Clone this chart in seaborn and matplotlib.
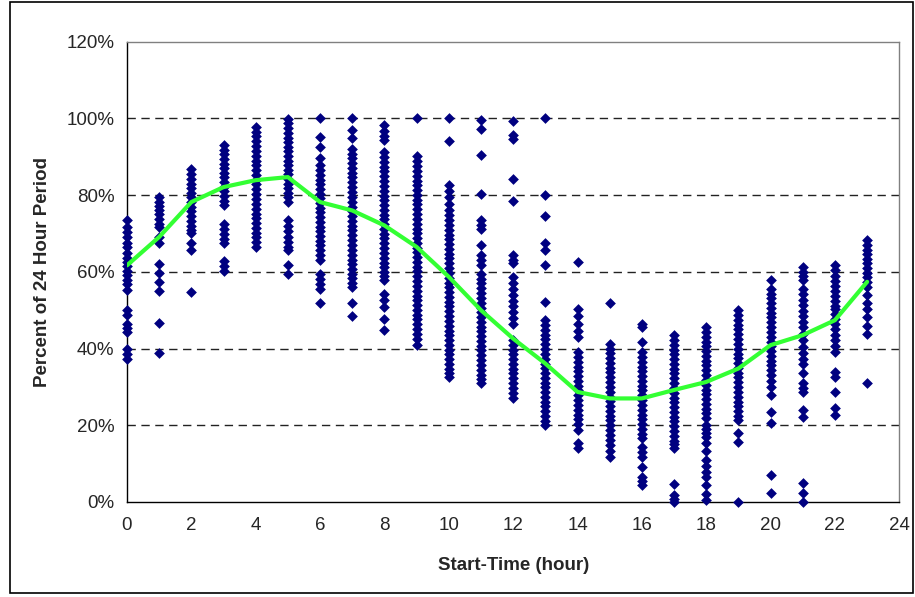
import matplotlib
matplotlib.use("Agg")
import matplotlib.pyplot as plt
import pandas as pd
import seaborn as sns
from matplotlib.patches import Rectangle

# percent of 24 hour period, per start hour
h0 = [73.4, 71.8, 70.5, 69, 67.5, 66.4, 65, 63.6, 62.5, 61.5, 60.3, 59.2, 58, 56.8, 55.2,
      50, 48.7, 46.5, 45.3, 44.4, 40, 38.6, 37.4]
h1 = [79.5, 78.3, 77.2, 76, 75, 73.8, 72.6, 71.7, 69, 67.5, 62, 59.8, 57.3, 55, 46.6, 38.8]
h2 = [86.9, 85.6, 84.3, 83, 81.8, 80.5, 79.4, 78.2, 77, 75.8, 74.5, 73.3, 72, 71, 70,
      67.5, 65.6, 54.8]
h3 = [93, 91.8, 90.6, 89.4, 88.2, 87, 85.8, 84.6, 83.4, 82.2, 81, 79.8, 78.6, 77.3,
      72.6, 71.2, 69.8, 68.5, 67.4, 62.8, 61.5, 60.2]
h4 = [97.7, 96.5, 95.3, 94, 92.8, 91.5, 90.2, 89, 87.8, 86.5, 85.2, 84, 82.8, 81.5, 80.2,
      79, 77.8, 76.5, 75.2, 74, 72.8, 71.5, 70.2, 69, 67.8, 66.5]
h5 = [99.9, 98.7, 97.5, 96.3, 95, 93.8, 92.6, 91.4, 90.2, 89, 87.8, 86.6, 85.4, 84.2, 83,
      81.8, 80.6, 79.4, 78.2, 73.4, 72, 70.6, 69.2, 67.9, 66.6, 65.6, 61.7, 59.5]
h6 = [100, 95.1, 92.5, 89.7, 87.8, 86.5, 85.3, 84, 82.9, 81.6, 80.4, 79.2, 78, 76.7, 75.5,
      74.3, 73, 71.8, 70.6, 69.3, 68, 66.9, 65.6, 64.3, 63, 59.5, 58.2, 56.9, 55.6, 51.9]
h7 = [100, 97.1, 94.9, 92.1, 90.8, 89.6, 88.3, 87.1, 85.8, 84.6, 83.3, 82, 80.8, 79.5, 78.3,
      77, 75.8, 74.5, 73.3, 72, 70.8, 69.5, 68.2, 67, 65.7, 64.5, 63.2, 62, 60.7, 59.5,
      58.3, 57.2, 56.1, 51.9, 48.4]
h8 = [98.2, 96.8, 95.5, 94.3, 91.2, 89.9, 88.7, 87.4, 86.2, 84.9, 83.7, 82.4, 81.2, 79.9,
      78.7, 77.4, 76.2, 74.9, 73.7, 72.4, 71.2, 69.9, 68.7, 67.4, 66.2, 64.9, 63.7, 62.4,
      61.2, 59.9, 58.8, 57.8, 54.3, 52.6, 50.9, 47.6, 44.8]
h9 = [100, 90.1, 88.8, 87.6, 86.3, 85.1, 83.8, 82.6, 81.3, 80.1, 78.8, 77.6, 76.3, 75.1,
      73.8, 72.6, 71.3, 70.1, 68.8, 67.6, 66.3, 65.1, 63.8, 62.6, 61.3, 60.1, 58.8, 57.6,
      56.3, 55.1, 53.8, 52.6, 51.3, 50.1, 48.8, 47.6, 46.3, 45.1, 43.8, 42.4, 40.9]
h10 = [100, 94, 82.6, 81, 79.4, 77.8, 76, 74.7, 73.5, 72.2, 71, 69.7, 68.5, 67.2, 66, 64.7,
       63.5, 62.2, 61, 59.7, 58.5, 57.2, 56, 54.7, 53.5, 52.2, 51, 49.7, 48.5, 47.2, 46,
       44.7, 43.5, 42.2, 41, 39.7, 38.5, 37.2, 36, 34.7, 33.6, 32.6]
h11 = [99.5, 97.3, 90.4, 80.4, 73.4, 72.3, 71.3, 66.9, 64.3, 63, 61.7, 59.5, 58.2, 57,
       55.7, 54.5, 53.2, 52, 50.7, 49.5, 48.2, 47, 45.7, 44.5, 43.2, 42, 40.7, 39.5, 38.2,
       37, 35.7, 34.5, 33.2, 32, 30.9]
h12 = [99.3, 95.8, 94.7, 84.1, 78.6, 64.3, 63.2, 62.2, 58.7, 57.2, 55.6, 54, 52.5, 51,
       49.5, 48, 46.5, 42.2, 41, 39.7, 38.5, 37.2, 36, 34.7, 33.5, 32.2, 31, 29.7, 28.3, 27]
h13 = [100, 80, 74.6, 67.4, 65.6, 61.9, 52.2, 47.4, 46.1, 44.9, 43.6, 42.4, 41.1, 39.9,
       38.6, 37.4, 36.1, 34.9, 33.6, 32.4, 31.1, 29.9, 28.6, 27.4, 26.1, 24.9, 23.6, 22.4,
       21.2, 20.1]
h14 = [62.6, 50.4, 48.5, 46.5, 44.6, 43.1, 39.1, 37.8, 36.6, 35.3, 34.1, 32.8, 31.6, 30.3,
       29.1, 27.8, 26.6, 25.3, 24.1, 22.8, 21.6, 20.3, 18.8, 15.3, 14]
h15 = [51.9, 41.3, 40, 38.8, 37.5, 36.3, 35, 33.8, 32.5, 31.3, 30, 28.8, 27.5, 26.3, 25,
       23.8, 22.5, 21.3, 20, 18.8, 17.5, 16.1, 14.8, 13.2, 11.8]
h16 = [46.5, 45.6, 41.7, 39.1, 37.8, 36.6, 35.3, 34.1, 32.8, 31.6, 30.3, 29.1, 27.8, 26.6,
       25.3, 24.1, 22.8, 21.6, 20.3, 19.1, 17.8, 16.6, 14.4, 13, 11.8, 9.2, 6.6, 5.5, 4.4]
h17 = [43.5, 42.2, 41, 39.7, 38.5, 37.2, 36, 34.7, 33.5, 32.2, 31, 29.7, 28.5, 27.2, 26,
       24.7, 23.5, 22.2, 21, 19.7, 18.5, 17.2, 16, 15, 14, 4.7, 1.8, 0.9, 0.1]
h18 = [45.6, 44.3, 43.1, 41.8, 40.6, 39.3, 38.1, 36.8, 35.6, 34.3, 33.1, 31.8, 30.6, 29.3,
       28.1, 26.8, 25.6, 24.3, 23.1, 21.8, 20, 19, 18, 16.9, 15.5, 13.2, 11, 9.5, 7.8, 6.5,
       4.5, 2, 0.5]
h19 = [50, 48.7, 47.5, 46.2, 45, 43.7, 42.5, 41.2, 40, 38.7, 37.5, 36.2, 35, 33.7, 32.5,
       31.2, 30, 28.7, 27.5, 26.2, 25, 23.7, 22.5, 21.4, 17.9, 15.7, 0]
h20 = [57.8, 55.6, 54.3, 53.1, 51.8, 50.6, 49.3, 48.1, 46.8, 45.6, 44.3, 43.1, 41.8, 40.6,
       39.3, 38.1, 36.8, 35.6, 34.3, 33.1, 31.6, 30, 27.9, 23.5, 20.5, 7, 2.4]
h21 = [61.3, 60, 58.8, 57.8, 55.6, 54.2, 52.7, 51.3, 49.8, 48.4, 47, 45.6, 43.9, 42.2,
       40.5, 38.8, 37.4, 36.1, 33.5, 30.9, 29.8, 28.7, 24, 22.2, 4.9, 2.3, 0.1]
h22 = [61.7, 60.4, 59, 57.6, 56.3, 55, 53.6, 52.3, 51.2, 50.4, 49.1, 47.8, 46.4, 45, 43.6,
       42.2, 40.7, 39.1, 33.9, 32.6, 28.7, 24.4, 22.7]
h23 = [68.2, 67, 65.8, 64.6, 63.4, 62.2, 61, 59.8, 58.6, 57.4, 56.1, 53.9, 52, 50.2, 48.3,
       46, 43.9, 30.9]

# green trend line (average per hour)
hours = list(range(24))
avg_pct = [61.7, 69.1, 78.2, 82.1, 83.9, 84.7, 78.2, 76, 72.1, 66.5, 58.7, 50, 42.6, 36.1,
           28.7, 27, 27, 29.2, 31.3, 34.8, 40.9, 43.5, 47.4, 57.4]

y_ticks = [0, 20, 40, 60, 80, 100, 120]
x_ticks = [0, 2, 4, 6, 8, 10, 12, 14, 16, 18, 20, 22, 24]

all_hours = [h0, h1, h2, h3, h4, h5, h6, h7, h8, h9, h10, h11,
             h12, h13, h14, h15, h16, h17, h18, h19, h20, h21, h22, h23]
rows = []
for h, vals in enumerate(all_hours):
    for v in vals:
        rows.append((h, v))
df = pd.DataFrame(rows, columns=["hour", "pct"])
df_avg = pd.DataFrame({"hour": hours, "pct": avg_pct})

sns.set_style("white")
plt.rcParams["font.family"] = ["Liberation Sans", "DejaVu Sans"]

fig = plt.figure(figsize=(9.15, 5.97), dpi=100)
ax = fig.add_axes([127 / 915, 1 - 502 / 597, (899.3 - 127) / 915, (502 - 41.7) / 597])

sns.scatterplot(data=df, x="hour", y="pct", marker="D", s=30, color="#000080",
                linewidth=0, ax=ax, clip_on=False, zorder=3)
sns.lineplot(data=df_avg, x="hour", y="pct", color="#33ff33", linewidth=3, ax=ax, zorder=4)

ax.set_xlim(0, 24)
ax.set_ylim(0, 120)
ax.set_xticks(x_ticks)
ax.set_yticks(y_ticks)
ax.set_yticklabels([f"{t}%" for t in y_ticks])
ax.tick_params(axis="both", direction="out", length=5, width=1, color="black",
               labelsize=13.5, pad=4)
ax.tick_params(axis="x", pad=6)

for t in y_ticks[1:-1]:
    ax.axhline(t, color="#222222", linewidth=1, linestyle=(0, (6, 4)), zorder=1)

for side in ["left", "bottom"]:
    ax.spines[side].set_color("black")
    ax.spines[side].set_linewidth(1)
for side in ["top", "right"]:
    ax.spines[side].set_color("#808080")
    ax.spines[side].set_linewidth(1)

ax.set_xlabel("Start-Time (hour)", fontsize=13.5, fontweight="bold", labelpad=16)
ax.set_ylabel("Percent of 24 Hour Period", fontsize=13.5, fontweight="bold", labelpad=11)

# outer chart border
fig.patches.append(Rectangle((9.5 / 915, 1 - 593 / 597), (913 - 9.5) / 915, (593 - 1.5) / 597,
                             transform=fig.transFigure, fill=False, edgecolor="black",
                             linewidth=1.2))

fig.savefig("out.png", dpi=100)
